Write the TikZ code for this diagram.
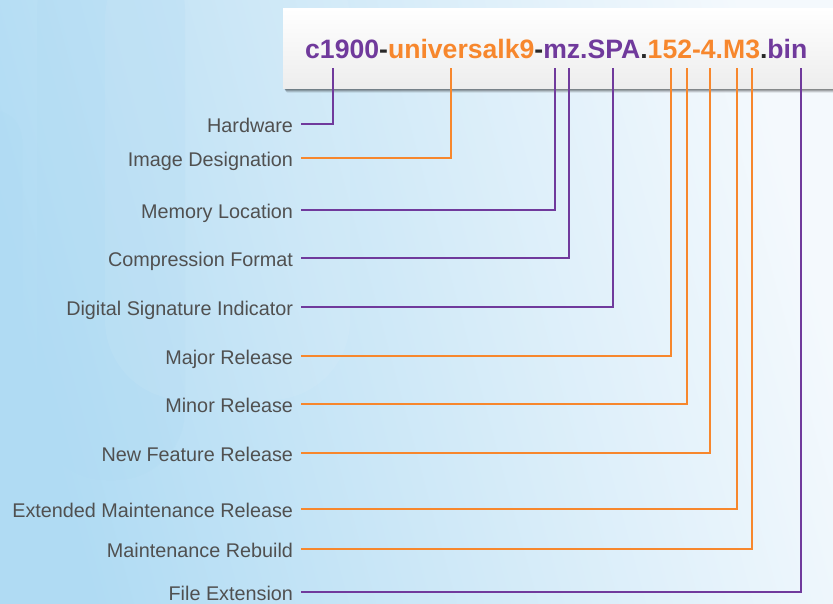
\documentclass[tikz,border=0pt]{standalone}
\usepackage{fontspec}
\setmainfont{Liberation Sans}
\usetikzlibrary{calc}
\definecolor{purp}{RGB}{112,58,156}
\definecolor{orng}{RGB}{247,135,45}
\definecolor{lbl}{RGB}{80,80,80}
\definecolor{dk}{RGB}{40,40,40}
\definecolor{bgl}{RGB}{176,219,243}
\definecolor{bgr}{RGB}{244,249,253}
\begin{document}
\begin{tikzpicture}[x=1pt,y=-1pt,
  lab/.style={anchor=east,inner xsep=0pt,inner ysep=0pt,outer xsep=8pt,
    text height=19pt,text depth=2pt,text=lbl,font=\fontsize{19.8}{23}\selectfont},
  pl/.style={draw=purp,line width=2.8pt},
  ol/.style={draw=orng,line width=2.8pt}]
\useasboundingbox (0,0) rectangle (833,603);
% background
\shade[left color=bgl,right color=bgr,shading angle=105] (0,0) rectangle (833,603);
\fill[bgl,opacity=0.25,rounded corners=70pt] (37,-60) rectangle (185,480);
\fill[white,opacity=0.06,rounded corners=80pt] (105,-60) rectangle (350,400);
\fill[bgl,opacity=0.35,rounded corners=30pt] (-40,110) rectangle (22,700);
% title box with soft shadow
\foreach \d/\o in {7/0.06,6/0.08,5/0.1,4/0.12,3/0.14,2/0.16}
  \fill[black,opacity=\o,rounded corners=2pt] (283+\d*0.4,8+\d*0.5) rectangle (845,88+\d*0.7);
\shade[top color=white,bottom color=black!7] (283,8) rectangle (840,88);
\node[anchor=base west,inner sep=0pt,font=\fontsize{26.6}{30}\selectfont\bfseries] (fn) at (305,58)
 {\textcolor{purp}{c1900}\textcolor{dk}{-}\textcolor{orng}{universalk9}\textcolor{dk}{-}\textcolor{purp}{mz.SPA}\textcolor{dk}{.}\textcolor{orng}{152-4.M3}\textcolor{dk}{.}\textcolor{purp}{bin}};
% top ends
\coordinate (t1) at (333,68);
\coordinate (t2) at (451,68);
\coordinate (t3) at (555,68);
\coordinate (t4) at (569,68);
\coordinate (t5) at (613,68);
\coordinate (t6) at (671,68);
\coordinate (t7) at (687,68);
\coordinate (t8) at (710,68);
\coordinate (t9) at (737,68);
\coordinate (t10) at (752,68);
\coordinate (t11) at (801,68);
% labels
\node[lab] (l1) at (301,124) {Hardware};
\node[lab] (l2) at (301,158) {Image Designation};
\node[lab] (l3) at (301,210) {Memory Location};
\node[lab] (l4) at (301,258) {Compression Format};
\node[lab] (l5) at (301,307) {Digital Signature Indicator};
\node[lab] (l6) at (301,356) {Major Release};
\node[lab] (l7) at (301,404) {Minor Release};
\node[lab] (l8) at (301,453) {New Feature Release};
\node[lab] (l9) at (301,509) {Extended Maintenance Release};
\node[lab] (l10) at (301,549) {Maintenance Rebuild};
\node[lab] (l11) at (301,592) {File Extension};
% connectors
\draw[pl] (l1.east) -| (t1);
\draw[ol] (l2.east) -| (t2);
\draw[pl] (l3.east) -| (t3);
\draw[pl] (l4.east) -| (t4);
\draw[pl] (l5.east) -| (t5);
\draw[ol] (l6.east) -| (t6);
\draw[ol] (l7.east) -| (t7);
\draw[ol] (l8.east) -| (t8);
\draw[ol] (l9.east) -| (t9);
\draw[ol] (l10.east) -| (t10);
\draw[pl] (l11.east) -| (t11);
\end{tikzpicture}
\end{document}
